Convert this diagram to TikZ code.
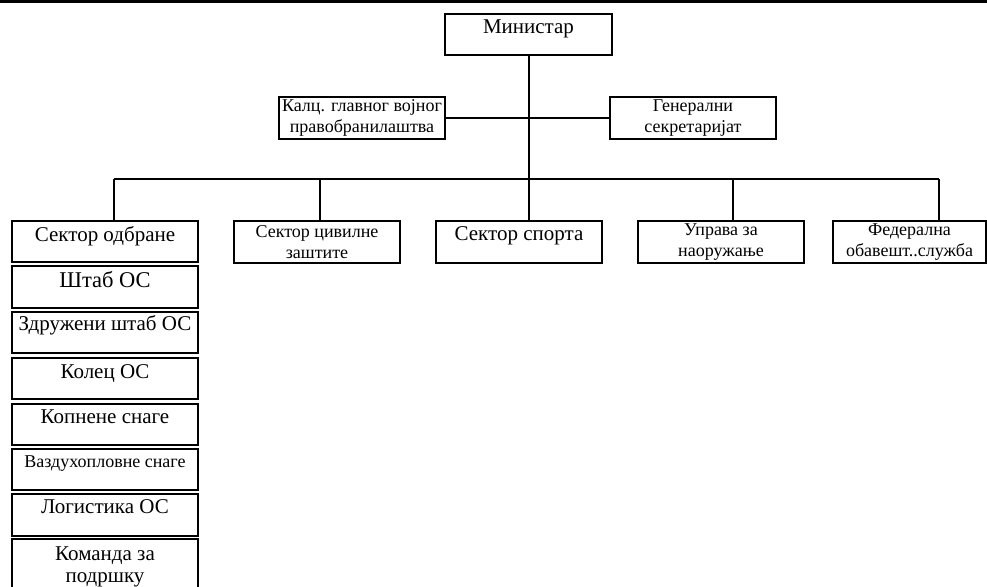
\documentclass[tikz,border=0pt]{standalone}
\usepackage{fontspec}
\setmainfont{Liberation Serif}
\begin{document}
\begin{tikzpicture}[x=1pt,y=-1pt,
  box/.style={draw, line width=2pt, anchor=north west, inner xsep=0pt, inner ysep=0pt},
  sl/.style 2 args={text height=#1pt, text depth=#2pt},
  two/.style={align=center},
  fbig/.style={font=\fontsize{21}{22}\selectfont},
  fmed/.style={font=\fontsize{18}{20.5}\selectfont},
  conn/.style={line width=2pt}]
\useasboundingbox (0,0) rectangle (987,586);
\clip (0,0) rectangle (987,586);
\fill (0,0) rectangle (987,3);
% top
\node[box,fbig,sl={20}{21},minimum width=167pt] (min) at (444,13) {Министар};
\node[box,fmed,two,minimum width=166pt,minimum height=42pt] (kal) at (278,96) {Калц. главног војног\\правобранилаштва};
\node[box,fmed,two,minimum width=166pt,minimum height=42pt] (gen) at (609,96) {Генерални\\секретаријат};
% second row
\node[box,fbig,sl={20}{21},minimum width=186pt] (odb) at (11,220) {Сектор одбране};
\node[box,fmed,two,minimum width=166pt,minimum height=42pt] (civ) at (233,220) {Сектор цивилне\\заштите};
\node[box,fbig,sl={19}{23},minimum width=166pt] (spo) at (435,220) {Сектор спорта};
\node[box,fmed,two,minimum width=166pt,minimum height=42pt] (upr) at (637,220) {Управа за\\наоружање};
\node[box,fmed,two,minimum width=153pt,minimum height=42pt] (fed) at (832,220) {Федерална\\обавешт..служба};
% left column
\node[box,font=\fontsize{22.5}{24}\selectfont,sl={21}{21},minimum width=186pt] (sht) at (11,265) {Штаб ОС};
\node[box,fbig,sl={18}{23},minimum width=186pt] (zdr) at (11,311) {Здружени штаб ОС};
\node[box,fbig,sl={20}{21},minimum width=186pt] (kol) at (11,357) {Колец ОС};
\node[box,fbig,sl={19}{22},minimum width=186pt] (kop) at (11,403) {Копнене снаге};
\node[box,fmed,sl={18}{23},minimum width=186pt] (vaz) at (11,448) {Ваздухопловне снаге};
\node[box,fbig,sl={19}{23},minimum width=186pt] (log) at (11,493) {Логистика ОС};
\node[box,font=\fontsize{21}{21.5}\selectfont,two,minimum width=186pt,minimum height=56pt] (kom) at (11,538) {Команда за\\подршку};
% connectors
\coordinate (b1) at (114,179);
\coordinate (b2) at (320,179);
\coordinate (b3) at (527,179);
\coordinate (b4) at (733,179);
\coordinate (b5) at (939,179);
\draw[conn] (min.south) -- (min.south |- spo.north);
\draw[conn] (kal.east) -- (gen.west);
\draw[conn] (b1) -- (b5);
\draw[conn] (b1) -- (b1 |- odb.north);
\draw[conn] (b2) -- (b2 |- civ.north);
\draw[conn] (b4) -- (b4 |- upr.north);
\draw[conn] (b5) -- (b5 |- fed.north);
\end{tikzpicture}
\end{document}
